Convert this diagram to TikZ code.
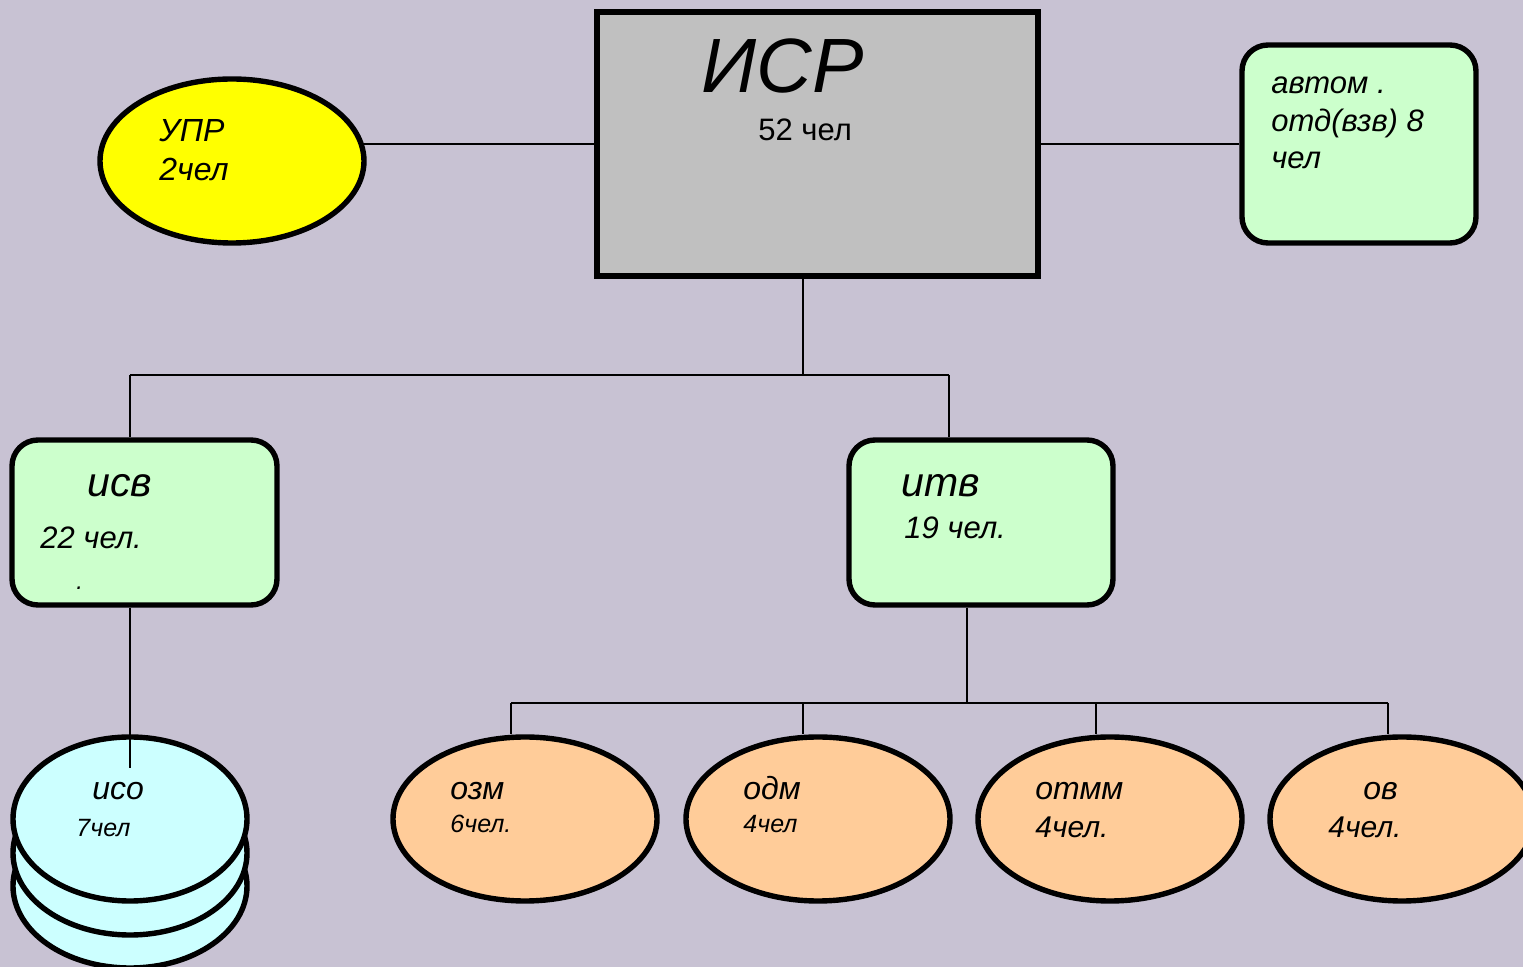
\documentclass[tikz,border=0pt]{standalone}
\usepackage{fontspec}
\setmainfont{Liberation Sans}
\usetikzlibrary{shapes.geometric}
\definecolor{bg}{RGB}{200,194,211}
\definecolor{boxgray}{RGB}{192,192,192}
\definecolor{boxgreen}{RGB}{204,255,204}
\definecolor{boxcyan}{RGB}{204,255,255}
\definecolor{boxorange}{RGB}{255,204,153}
\definecolor{boxyellow}{RGB}{255,255,0}
\tikzset{
  conn/.style={line width=0.6pt, black},
  thick box/.style={draw=black, line width=2.7pt, inner sep=0pt},
  oval/.style={thick box, ellipse, minimum width=132pt, minimum height=82pt},
  rbox/.style={thick box, rectangle, rounded corners=13pt},
  lbl/.style={anchor=base west, inner sep=0pt, font=\itshape},
}
\begin{document}
\begin{tikzpicture}[x=0.5pt,y=-0.5pt]
\fill[bg] (0,0) rectangle (1523,967);
\useasboundingbox (0,0) rectangle (1523,967);

% main box
\node[thick box, rectangle, fill=boxgray, minimum width=220.5pt, minimum height=132pt] (isr) at (817.5,144) {};
\node[lbl, font=\itshape\fontsize{38.5}{44}\selectfont] (isrt) at (701,93) {ИСР};
\node[lbl, font=\fontsize{15.5}{18}\selectfont] (isrn) at (758,141) {52 чел};

% UPR
\node[oval, fill=boxyellow] (upr) at (232,161) {};
\node[lbl, font=\itshape\fontsize{16}{19}\selectfont] (uprt) at (159,142) {УПР};
\node[lbl, font=\itshape\fontsize{16}{19}\selectfont] (uprn) at (159,181) {2чел};

% automation box
\node[rbox, fill=boxgreen, minimum width=117pt, minimum height=99pt] (auto) at (1359,144) {};
\node[lbl, font=\itshape\fontsize{15.5}{18}\selectfont] (auto1) at (1271,94) {автом .};
\node[lbl, font=\itshape\fontsize{15.5}{18}\selectfont] (auto2) at (1271,132) {отд(взв) 8};
\node[lbl, font=\itshape\fontsize{15.5}{18}\selectfont] (auto3) at (1271,169) {чел};

% isv
\node[rbox, fill=boxgreen, minimum width=132.5pt, minimum height=82.5pt] (isv) at (144.5,522.5) {};
\node[lbl, font=\itshape\fontsize{20.5}{24}\selectfont] (isvt) at (87,497) {исв};
\node[lbl, font=\itshape\fontsize{15.5}{18}\selectfont] (isvn) at (40,549) {22 чел.};
\node[lbl, font=\itshape\fontsize{12}{14}\selectfont] (isvd) at (76,590) {.};

% itv
\node[rbox, fill=boxgreen, minimum width=132pt, minimum height=82.5pt] (itv) at (981,522.5) {};
\node[lbl, font=\itshape\fontsize{20.5}{24}\selectfont] (itvt) at (901,497) {итв};
\node[lbl, font=\itshape\fontsize{15.5}{18}\selectfont] (itvn) at (904,539) {19 чел.};

% iso stack
\node[oval, fill=boxcyan, minimum width=117pt] (iso3) at (130,886) {};
\node[oval, fill=boxcyan, minimum width=117pt] (iso2) at (130,853) {};
\node[oval, fill=boxcyan, minimum width=117pt] (iso) at (130,819) {};
\node[lbl, font=\itshape\fontsize{16}{19}\selectfont] (isot) at (92,800) {исо};
\node[lbl, font=\itshape\fontsize{12.5}{15}\selectfont] (ison) at (76,837) {7чел};

% orange ellipses
\node[oval, fill=boxorange] (ozm) at (525,819) {};
\node[lbl, font=\itshape\fontsize{16}{19}\selectfont] (ozmt) at (450,800) {озм};
\node[lbl, font=\itshape\fontsize{12.5}{15}\selectfont] (ozmn) at (450,833) {6чел.};

\node[oval, fill=boxorange] (odm) at (818,819) {};
\node[lbl, font=\itshape\fontsize{16}{19}\selectfont] (odmt) at (743,800) {одм};
\node[lbl, font=\itshape\fontsize{12.5}{15}\selectfont] (odmn) at (743,833) {4чел};

\node[oval, fill=boxorange] (otmm) at (1110,819) {};
\node[lbl, font=\itshape\fontsize{16}{19}\selectfont] (otmmt) at (1035,800) {отмм};
\node[lbl, font=\itshape\fontsize{15}{18}\selectfont] (otmmn) at (1035,838) {4чел.};

\node[oval, fill=boxorange] (ov) at (1402,819) {};
\node[lbl, font=\itshape\fontsize{16}{19}\selectfont] (ovt) at (1363,800) {ов};
\node[lbl, font=\itshape\fontsize{15}{18}\selectfont] (ovn) at (1328,838) {4чел.};

% connectors
\coordinate (j1) at (803,375);
\coordinate (ja) at (130,375);
\coordinate (jb) at (949,375);
\coordinate (isoend) at (130,768);
\coordinate (jc) at (967,703);
\coordinate (k1) at (511,703);
\coordinate (k2) at (803,703);
\coordinate (k3) at (1096,703);
\coordinate (k4) at (1388,703);
\coordinate (uprr) at (360,144);

\draw[conn] (isr.west) -- (uprr);
\draw[conn] (isr.east) -- (auto.west |- isr.east);
\draw[conn] (j1 |- isr.south) -- (j1);
\draw[conn] (ja) -- (jb);
\draw[conn] (ja) -- (ja |- isv.north);
\draw[conn] (jb) -- (jb |- itv.north);
\draw[conn] (ja |- isv.south) -- (isoend);
\draw[conn] (jc |- itv.south) -- (jc);
\draw[conn] (k1) -- (k4);
\draw[conn] (k1) -- (k1 |- ozm.north);
\draw[conn] (k2) -- (k2 |- odm.north);
\draw[conn] (k3) -- (k3 |- otmm.north);
\draw[conn] (k4) -- (k4 |- ov.north);
\end{tikzpicture}
\end{document}
